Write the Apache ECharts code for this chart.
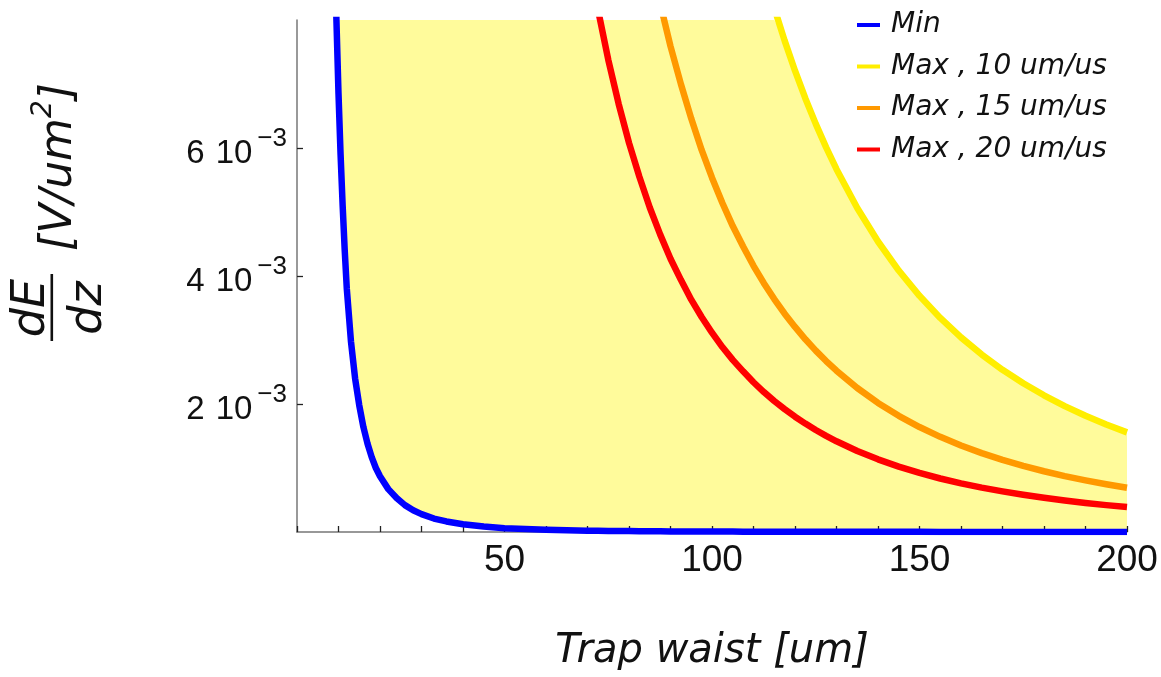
<!DOCTYPE html>
<html>
<head>
<meta charset="utf-8">
<script src="https://cdn.jsdelivr.net/npm/echarts@6/dist/echarts.min.js"></script>
<style>
  html, body { margin: 0; padding: 0; background: #ffffff; }
  #chart { width: 1161px; height: 677px; }
</style>
</head>
<body>
<div id="chart"></div>
<script>
// Trap waist samples [um] shared by the lower bound and the 10 um/us upper bound
const waist = [
  8, 8.5, 9, 9.5, 10, 10.5, 11, 11.5, 12,
  13, 14, 15, 16, 17, 18, 19, 20,
  22, 24, 26, 28, 30,
  33, 36, 40, 45, 50, 55, 60, 65, 70,
  72.5, 75, 77.5, 80, 82.5, 85, 87.5, 90, 92.5, 95, 97.5, 100,
  102.5, 105, 107.5, 110, 112.5, 115, 117.5, 120, 122.5, 125, 127.5, 130,
  135, 140, 145, 150, 155, 160, 165, 170, 175, 180, 185, 190, 195, 200
];

// Minimum gradient dE/dz, in units of 10^-3 V/um^2
const minGradient = [
  13.4, 11.2, 9.4, 8.0, 6.85, 5.9, 5.1, 4.4, 3.8,
  2.98, 2.4, 1.98, 1.64, 1.38, 1.17, 1.0, 0.87,
  0.67, 0.53, 0.42, 0.34, 0.28,
  0.21, 0.165, 0.12, 0.085, 0.06, 0.045, 0.034, 0.027, 0.021,
  0.019, 0.017, 0.015, 0.014, 0.012, 0.011, 0.010, 0.009, 0.0085, 0.008, 0.0075, 0.007,
  0.0065, 0.006, 0.0055, 0.005, 0.0048, 0.0045, 0.0042, 0.004, 0.0037, 0.0035, 0.0033, 0.0031,
  0.0028, 0.0025, 0.0022, 0.002, 0.0018, 0.0017, 0.0015, 0.0014, 0.0013, 0.0012, 0.0011, 0.001, 0.0009, 0.0009
];

// Maximum gradient at 10 um/us (10^-3 V/um^2); the left part runs far above the plotted range
const max10 = [
  24326, 20281, 17085, 14527, 12455, 10759, 9358, 8189, 7208,
  5669, 4539, 3690, 3041, 2535, 2136, 1816, 1557,
  1170, 901, 708.6, 567.4, 461.3,
  346.6, 267.0, 194.6, 136.7, 99.64, 74.86, 57.66, 45.35, 36.31,
  32.68, 29.52, 26.76, 24.33, 22.18, 20.28, 18.59, 17.08, 15.74, 14.53, 13.44, 12.46,
  11.57, 10.76, 10.03, 9.358, 8.748, 8.189, 7.678, 7.208, 6.775, 6.377, 6.009, 5.669,
  5.062, 4.539, 4.085, 3.690, 3.345, 3.041, 2.773, 2.535, 2.324, 2.136, 1.967, 1.816, 1.680, 1.557
];

// Trap waist samples [um] for the 15 and 20 um/us upper bounds
const waistHigh = [
  60, 65, 70,
  72.5, 75, 77.5, 80, 82.5, 85, 87.5, 90, 92.5, 95, 97.5, 100,
  102.5, 105, 107.5, 110, 112.5, 115, 117.5, 120, 122.5, 125, 127.5, 130,
  135, 140, 145, 150, 155, 160, 165, 170, 175, 180, 185, 190, 195, 200
];

const max15 = [
  25.63, 20.16, 16.14,
  14.52, 13.12, 11.89, 10.81, 9.86, 9.01, 8.26, 7.59, 7.00, 6.46, 5.97, 5.536,
  5.14, 4.78, 4.46, 4.159, 3.888, 3.640, 3.412, 3.204, 3.011, 2.834, 2.671, 2.520,
  2.250, 2.017, 1.816, 1.640, 1.487, 1.352, 1.232, 1.127, 1.033, 0.949, 0.874, 0.807, 0.747, 0.692
];

const max20 = [
  14.42, 11.34, 9.08,
  8.17, 7.38, 6.69, 6.08, 5.55, 5.07, 4.65, 4.27, 3.94, 3.63, 3.36, 3.114,
  2.89, 2.69, 2.51, 2.340, 2.187, 2.047, 1.920, 1.802, 1.694, 1.594, 1.502, 1.417,
  1.266, 1.135, 1.021, 0.923, 0.836, 0.760, 0.693, 0.634, 0.581, 0.534, 0.492, 0.454, 0.420, 0.389
];

const xTicks = [50, 100, 150, 200];
const yTicks = [2, 4, 6];
const Y_MAX = 8;
const seriesNames = ['Min', 'Max , 10 um/us', 'Max , 15 um/us', 'Max , 20 um/us'];

const pair = (xs, ys) => xs.map((x, i) => [x, ys[i]]);

// The shaded region lies between the lower bound and the 10 um/us bound; only its visible part
// is needed, so both edges are capped at the top of the y range. The upper fill starts where the
// lower bound enters the plot, so its left edge sits inside the cleared part.
const bandLow = pair(waist, minGradient.map(v => Math.min(v, Y_MAX)));
const bandHigh = pair(waist, max10.map(v => Math.min(v, Y_MAX)))
  .filter((p, i) => minGradient[i] <= Y_MAX);

const italicFont = 'DejaVu Sans';
const tickFont = 'Liberation Sans';

const chart = echarts.init(document.getElementById('chart'), null, { renderer: 'canvas' });

const lineSeries = (name, xs, ys, color, z) => ({
  name,
  type: 'line',
  data: pair(xs, ys),
  showSymbol: false,
  symbol: 'none',
  smooth: false,
  clip: true,
  color,
  lineStyle: { color, width: 6.5, cap: 'butt', join: 'round' },
  z
});

// Area from the axis up to a curve, drawn without an outline
const areaSeries = (name, points, fill, z) => ({
  name,
  type: 'line',
  data: points,
  showSymbol: false,
  symbol: 'none',
  clip: true,
  lineStyle: { width: 0, opacity: 0 },
  areaStyle: { color: fill, opacity: 1, origin: 'start' },
  silent: true,
  z
});

const option = {
  animation: false,
  backgroundColor: '#ffffff',
  grid: { left: 297, right: 34, top: 20, bottom: 144, containLabel: false },
  legend: {
    data: seriesNames,
    orient: 'vertical',
    left: 857,
    top: 10,
    padding: 0,
    itemGap: 11.5,
    itemWidth: 23,
    itemHeight: 4,
    icon: 'rect',
    selectedMode: false,
    textStyle: {
      fontFamily: italicFont,
      fontStyle: 'italic',
      fontSize: 28,
      lineHeight: 30,
      color: '#111',
      padding: [0, 0, 0, 6]
    }
  },
  xAxis: {
    type: 'value',
    min: 0,
    max: 200,
    interval: 50,
    z: 5,
    axisLine: { show: true, onZero: false, lineStyle: { color: '#777', width: 1.5 } },
    axisTick: { show: true, inside: true, length: 6, lineStyle: { color: '#222', width: 1.3 } },
    minorTick: { show: true, splitNumber: 5, length: 6, lineStyle: { color: '#222', width: 1.3 } },
    splitLine: { show: false },
    axisLabel: {
      customValues: xTicks,
      margin: 10,
      fontFamily: tickFont,
      fontSize: 37,
      color: '#111'
    },
    name: 'Trap waist [um]',
    nameLocation: 'middle',
    nameGap: 100,
    nameTextStyle: {
      fontFamily: italicFont,
      fontStyle: 'italic',
      fontSize: 40,
      lineHeight: 40,
      color: '#111'
    }
  },
  yAxis: {
    type: 'value',
    min: 0,
    max: Y_MAX,
    interval: 2,
    z: 5,
    axisLine: { show: true, onZero: false, lineStyle: { color: '#777', width: 1.5 } },
    axisTick: { show: true, inside: true, length: 6, customValues: yTicks, lineStyle: { color: '#222', width: 1.3 } },
    splitLine: { show: false },
    axisLabel: {
      customValues: yTicks,
      margin: 10,
      formatter: v => '{a|' + v + '}{b|10}{s|\u22123}',
      rich: {
        a: { fontFamily: tickFont, fontSize: 33, lineHeight: 44, verticalAlign: 'bottom', color: '#111' },
        b: { fontFamily: tickFont, fontSize: 33, lineHeight: 44, verticalAlign: 'bottom', color: '#111', padding: [0, 0, 0, 11] },
        s: { fontFamily: tickFont, fontSize: 26, lineHeight: 27, verticalAlign: 'top', color: '#111', padding: [0, 0, 0, 5] }
      }
    }
  },
  graphic: [
    {
      type: 'text', x: 32, y: 308, rotation: Math.PI / 2, z: 10,
      style: { text: 'dE', fontFamily: italicFont, fontStyle: 'italic', fontSize: 46, fill: '#111', align: 'center', verticalAlign: 'middle' }
    },
    {
      type: 'rect', z: 10,
      shape: { x: 50.5, y: 274, width: 2.6, height: 67 },
      style: { fill: '#111' }
    },
    {
      type: 'text', x: 89, y: 308, rotation: Math.PI / 2, z: 10,
      style: { text: 'dz', fontFamily: italicFont, fontStyle: 'italic', fontSize: 46, fill: '#111', align: 'center', verticalAlign: 'middle' }
    },
    {
      type: 'text', x: 56, y: 167, rotation: Math.PI / 2, z: 10,
      style: {
        text: '{a|[V/um}{b|2}{a|]}',
        align: 'center', verticalAlign: 'middle',
        rich: {
          a: { fontFamily: italicFont, fontStyle: 'italic', fontSize: 44, lineHeight: 52, verticalAlign: 'bottom', fill: '#111' },
          b: { fontFamily: italicFont, fontStyle: 'italic', fontSize: 28, lineHeight: 30, verticalAlign: 'top', fill: '#111' }
        }
      }
    }
  ],
  series: [
    // shaded region: fill up to the 10 um/us bound, then clear everything below the lower bound
    areaSeries('region upper edge', bandHigh, '#FFFB9B', 1),
    areaSeries('region lower edge', bandLow, '#FFFFFF', 2),
    lineSeries(seriesNames[3], waistHigh, max20, '#FF0000', 6),
    lineSeries(seriesNames[2], waistHigh, max15, '#FF9900', 6),
    lineSeries(seriesNames[1], waist, max10, '#FFEE00', 6),
    lineSeries(seriesNames[0], waist, minGradient, '#0000FF', 7)
  ]
};

chart.setOption(option);
</script>
</body>
</html>
